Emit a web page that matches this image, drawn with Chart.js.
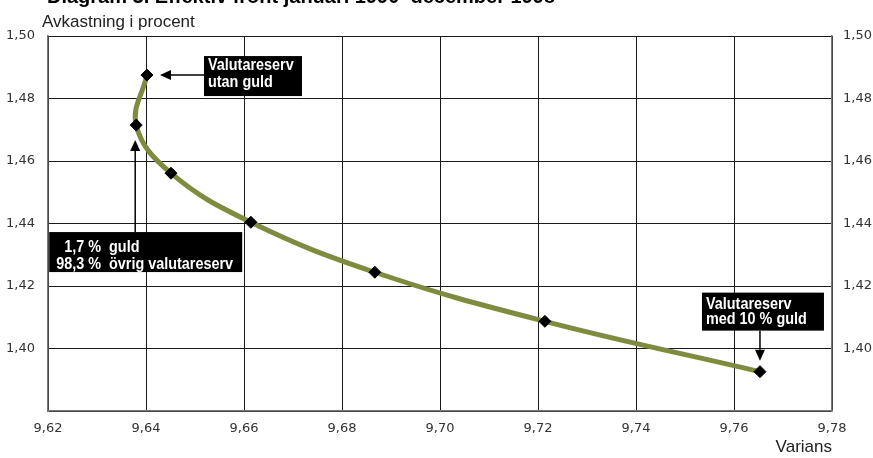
<!DOCTYPE html>
<html>
<head>
<meta charset="utf-8">
<script src="https://cdn.jsdelivr.net/npm/chart.js@4"></script>
<style>
  body { margin: 0; background: #fff; }
  #wrap { width: 873px; height: 458px; }
</style>
</head>
<body>
<div id="wrap"><canvas id="myChart" width="873" height="458"></canvas></div>
<script>
// values
const variance = [9.6402, 9.6380, 9.6451, 9.6614, 9.6867, 9.7214, 9.7653];
const returns = [1.4875, 1.4715, 1.4561, 1.4404, 1.4244, 1.4087, 1.3926];
const xTicks = [9.62, 9.64, 9.66, 9.68, 9.70, 9.72, 9.74, 9.76, 9.78];
const yTicks = [1.38, 1.40, 1.42, 1.44, 1.46, 1.48, 1.50];

const titleText = 'Diagram 3. Effektiv front januari 1990–december 1998';
const yTitle = 'Avkastning i procent';
const xTitle = 'Varians';

const TEXT_FONT = '"Liberation Sans", Arial, sans-serif';
const TICK_FONT = '"DejaVu Sans", sans-serif';
const SQUEEZE = 0.9;   // box text is a condensed face

function fmt(v) {
    return v.toFixed(2).replace('.', ',');
}

// draw an arrow with a filled head at (x2, y2)
function arrow(ctx, x1, y1, x2, y2) {
    const ang = Math.atan2(y2 - y1, x2 - x1);
    const len = 11, half = 5;
    ctx.strokeStyle = '#000';
    ctx.fillStyle = '#000';
    ctx.lineWidth = 1.5;
    ctx.beginPath();
    ctx.moveTo(x1, y1);
    ctx.lineTo(x2 - Math.cos(ang) * len, y2 - Math.sin(ang) * len);
    ctx.stroke();
    ctx.beginPath();
    ctx.moveTo(x2, y2);
    ctx.lineTo(x2 - Math.cos(ang) * len - Math.sin(ang) * half, y2 - Math.sin(ang) * len + Math.cos(ang) * half);
    ctx.lineTo(x2 - Math.cos(ang) * len + Math.sin(ang) * half, y2 - Math.sin(ang) * len - Math.cos(ang) * half);
    ctx.closePath();
    ctx.fill();
}

// black box with white text lines; line = {text, dx, dy}
function labelBox(ctx, x, y, w, h, lines) {
    ctx.fillStyle = '#000';
    ctx.fillRect(x, y, w, h);
    ctx.save();
    ctx.fillStyle = '#fff';
    ctx.font = 'bold 16px ' + TEXT_FONT;
    ctx.textAlign = 'left';
    ctx.textBaseline = 'alphabetic';
    ctx.translate(x, y);
    ctx.scale(SQUEEZE, 1);
    lines.forEach(l => {
        ctx.fillText(l.text, l.dx / SQUEEZE, l.dy);
    });
    ctx.restore();
}

const decorations = {
    id: 'decorations',
    afterDraw(chart) {
        const ctx = chart.ctx;
        const xs = chart.scales.x, ys = chart.scales.y;
        ctx.save();

        // headline (cut at the top edge like the original)
        ctx.fillStyle = '#000';
        ctx.font = 'bold 20px ' + TEXT_FONT;
        ctx.textAlign = 'left';
        ctx.textBaseline = 'alphabetic';
        ctx.fillText(titleText, 47, 3);

        ctx.font = '17px ' + TEXT_FONT;
        ctx.fillStyle = '#222';
        ctx.fillText(yTitle, 42, 27);

        // Valutareserv utan guld
        let px = xs.getPixelForValue(variance[0]);
        let py = ys.getPixelForValue(returns[0]);
        arrow(ctx, px + 57, py, px + 13, py);
        labelBox(ctx, px + 57, py - 19, 98, 40, [
            { text: 'Valutareserv', dx: 4, dy: 14 },
            { text: 'utan guld', dx: 4, dy: 31 }
        ]);

        // 1,7 % guld
        px = xs.getPixelForValue(variance[1]);
        py = ys.getPixelForValue(returns[1]);
        arrow(ctx, px - 1, py + 107, px - 1, py + 15);
        ctx.font = 'bold 16px ' + TEXT_FONT;
        const shift = (ctx.measureText('98,3').width - ctx.measureText('1,7').width) * SQUEEZE;
        labelBox(ctx, px - 87, py + 107, 193, 40, [
            { text: '1,7 %  guld', dx: 7 + shift, dy: 20 },
            { text: '98,3 %  övrig valutareserv', dx: 7, dy: 37 }
        ]);

        // Valutareserv med 10 % guld
        px = xs.getPixelForValue(variance[6]);
        py = ys.getPixelForValue(returns[6]);
        arrow(ctx, px, py - 41, px, py - 11);
        labelBox(ctx, px - 58, py - 79, 122, 38, [
            { text: 'Valutareserv', dx: 4, dy: 16 },
            { text: 'med 10 % guld', dx: 4, dy: 31 }
        ]);

        ctx.restore();
    }
};

const ctx = document.getElementById('myChart').getContext('2d');
new Chart(ctx, {
    type: 'scatter',
    data: {
        datasets: [{
            data: variance.map((v, i) => ({ x: v, y: returns[i] })),
            showLine: true,
            tension: 0.4,
            borderColor: '#7f8b3f',
            borderWidth: 5,
            pointStyle: 'rectRot',
            pointRadius: 6,
            pointBackgroundColor: '#000',
            pointBorderColor: '#000',
            pointBorderWidth: 1
        }]
    },
    options: {
        responsive: false,
        animation: false,
        layout: { padding: { top: 36, left: 0, right: 0, bottom: 0 } },
        plugins: {
            legend: { display: false },
            tooltip: { enabled: false }
        },
        scales: {
            x: {
                type: 'linear',
                min: xTicks[0],
                max: xTicks[xTicks.length - 1],
                afterBuildTicks: s => { s.ticks = xTicks.map(v => ({ value: v })); },
                afterFit: s => { s.height = 47; },
                grid: { color: '#1a1a1a', lineWidth: 1, drawTicks: false },
                border: { color: '#777', width: 1.5 },
                ticks: {
                    padding: 10,
                    color: '#333',
                    font: { family: TICK_FONT, size: 13 },
                    callback: v => fmt(v)
                },
                title: {
                    display: true,
                    text: xTitle,
                    align: 'end',
                    color: '#222',
                    padding: { top: 0, bottom: 0 },
                    font: { family: TEXT_FONT, size: 17 }
                }
            },
            y: {
                type: 'linear',
                position: 'left',
                min: yTicks[0],
                max: yTicks[yTicks.length - 1],
                afterBuildTicks: s => { s.ticks = yTicks.map(v => ({ value: v })); },
                afterFit: s => { s.width = 48; },
                grid: { color: '#1a1a1a', lineWidth: 1, drawTicks: false },
                border: { color: '#777', width: 1.5 },
                ticks: {
                    padding: 13,
                    color: '#333',
                    font: { family: TICK_FONT, size: 13 },
                    callback: v => (v < 1.39 ? '' : fmt(v))
                }
            },
            y2: {
                type: 'linear',
                position: 'right',
                min: yTicks[0],
                max: yTicks[yTicks.length - 1],
                afterBuildTicks: s => { s.ticks = yTicks.map(v => ({ value: v })); },
                afterFit: s => { s.width = 41; },
                grid: { drawOnChartArea: false, drawTicks: false },
                border: { color: '#777', width: 1.5 },
                ticks: {
                    padding: 11,
                    color: '#333',
                    font: { family: TICK_FONT, size: 13 },
                    callback: v => (v < 1.39 ? '' : fmt(v))
                }
            }
        }
    },
    plugins: [decorations]
});
</script>
</body>
</html>
